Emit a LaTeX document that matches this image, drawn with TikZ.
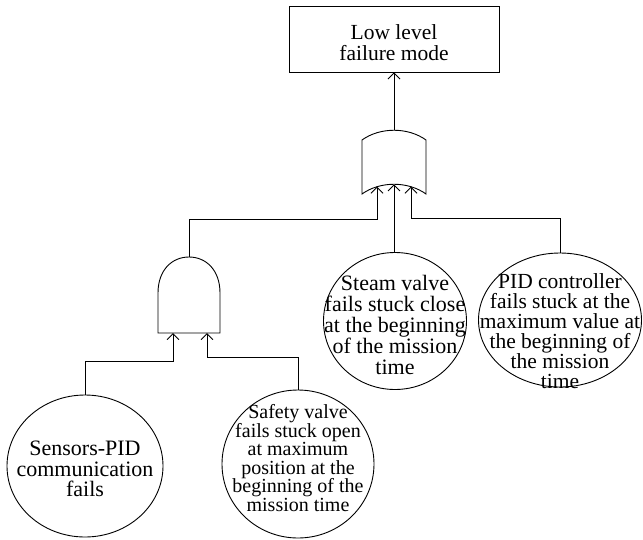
\documentclass[tikz,border=0pt]{standalone}
\usepackage{fontspec}
\setmainfont{Liberation Serif}
\usetikzlibrary{shapes.geometric,arrows.meta}
\begin{document}
\begin{tikzpicture}[x=1pt,y=-1pt,line width=0.9pt,
  arr/.style={-{Straight Barb[length=6pt,width=12pt,line width=0.9pt]}},
  txt/.style={align=center,inner sep=0pt,font=\fontsize{21.5}{21}\selectfont},
  event/.style={ellipse,draw,inner sep=0pt}]
\useasboundingbox (0,0) rectangle (643,539);

% top event
\node[draw,rectangle,minimum width=210pt,minimum height=66pt,inner sep=0pt] (top) at (394,39) {};
\node[txt] (toptext) at (394,42.5) {Low level\\failure mode};

% OR gate
\draw (362,194) -- (362,140) .. controls (380,127) and (408,127) .. (426,140)
      -- (426,194) .. controls (408,181) and (380,181) .. (362,194) -- cycle;
\coordinate (or-out) at (394,130);
\coordinate (or-in1) at (377,186.7);
\coordinate (or-in2) at (394,184.3);
\coordinate (or-in3) at (411,186.7);

% AND gate
\draw (158,333) -- (158,293) .. controls (158,270) and (172,257) .. (189,257)
      .. controls (206,257) and (220,270) .. (220,293) -- (220,333) -- cycle;
\coordinate (and-out) at (189,257);
\coordinate (and-in1) at (173,333);
\coordinate (and-in2) at (207,333);

% basic events
\node[event,minimum width=156pt,minimum height=142pt] (sens) at (85,466) {};
\node[event,minimum width=152pt,minimum height=148pt] (safe) at (298,464) {};
\node[event,minimum width=143pt,minimum height=137pt] (steam) at (395,321) {};
\node[event,minimum width=163pt,minimum height=134pt] (pid) at (560,320) {};

\node[txt,font=\fontsize{22}{20.5}\selectfont] (senstext) at (85,469)
  {Sensors-PID\\communication\\fails};
\node[txt,font=\fontsize{20}{18.6}\selectfont] (safetext) at (298,458)
  {Safety valve\\fails stuck open\\at maximum\\position at the\\beginning of the\\mission time};
\node[txt,font=\fontsize{22}{21}\selectfont] (steamtext) at (395,325)
  {Steam valve\\fails stuck close\\at the beginning\\of the mission\\time};
\node[txt,font=\fontsize{21.5}{20}\selectfont] (pidtext) at (560,331)
  {PID controller\\fails stuck at the\\maximum value at\\the beginning of\\the mission\\time};

% connectors
\draw[arr] (or-out) -- (or-out |- top.south);
\draw[arr] (and-out) -- ++(0,-38) -| (or-in1);
\draw[arr] (or-in2 |- steam.north) -- (or-in2);
\draw[arr] (pid.north) -- ++(0,-34) -| (or-in3);
\draw[arr] (sens.north) -- ++(0,-33) -| (and-in1);
\draw[arr] (safe.north) -- ++(0,-32) -| (and-in2);
\end{tikzpicture}
\end{document}
